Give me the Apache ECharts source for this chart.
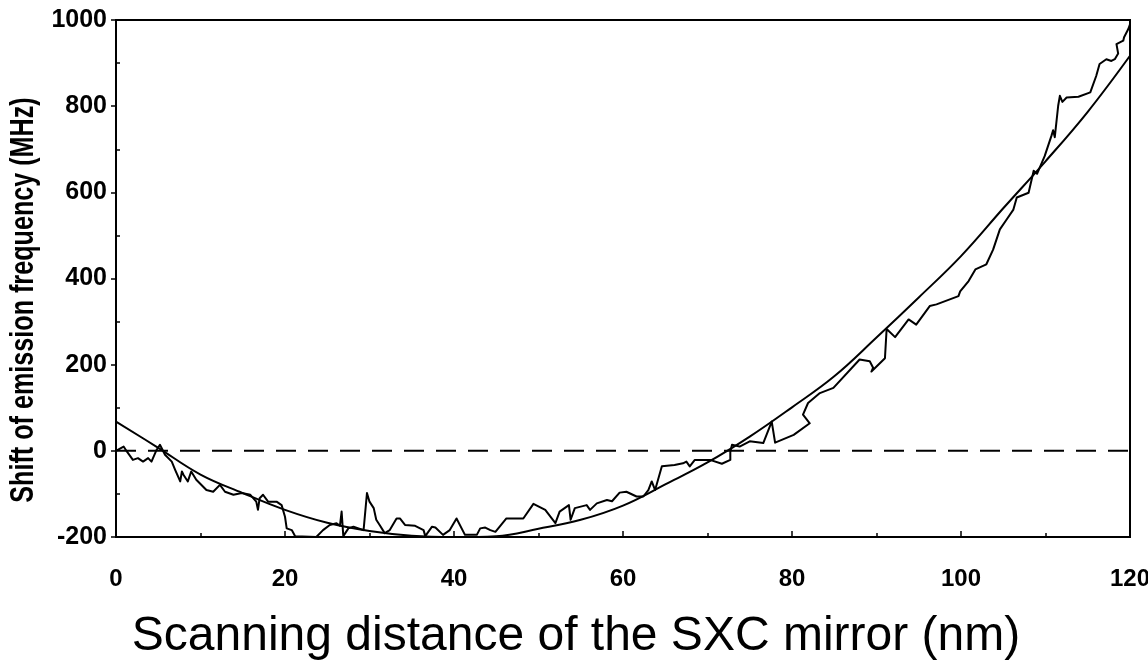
<!DOCTYPE html>
<html>
<head>
<meta charset="utf-8">
<script src="https://cdn.jsdelivr.net/npm/echarts@6/dist/echarts.min.js"></script>
<style>
  html, body { margin: 0; padding: 0; background: #fff; }
  #chart { width: 1148px; height: 667px; }
</style>
</head>
<body>
<div id="chart"></div>
<script>
// Axis ticks
const xTicks = [0, 20, 40, 60, 80, 100, 120];
const yMajorTicks = [-200, 0, 200, 400, 600, 800, 1000];
const yMinorTicks = [-100, 100, 300, 500, 700, 900];

// Measured frequency shift while scanning the mirror: [distance nm, shift MHz]
const measured = [
  [0, 0], [0.9, 10], [1.3, -2], [2.0, -21], [2.6, -17], [3.2, -25], [3.8, -17], [4.2, -25],
  [4.8, 2], [5.2, 14], [5.8, -9], [6.6, -25], [7.0, -44], [7.6, -71], [7.8, -48], [8.0, -56],
  [8.5, -71], [8.9, -48], [9.5, -67], [10.7, -91], [11.5, -95], [12.3, -79], [12.9, -95],
  [13.9, -102], [14.9, -98], [15.9, -102], [16.6, -118], [16.8, -137], [17.0, -110], [17.4, -102],
  [18.0, -118], [19.0, -118], [19.6, -126], [20.0, -153], [20.2, -180], [20.8, -184], [21.2, -198],
  [23.7, -200], [24.5, -184], [25.3, -172], [26.1, -168], [26.5, -174], [26.7, -141], [26.9, -198],
  [27.5, -180], [28.1, -176], [28.7, -180], [29.3, -184], [29.7, -98], [30.0, -118], [30.5, -133],
  [30.8, -160], [31.2, -172], [31.8, -191], [32.4, -184], [33.2, -157], [33.6, -157], [34.2, -172],
  [35.4, -174], [36.4, -184], [36.6, -198], [37.4, -176], [37.8, -178], [38.7, -195], [39.5, -184],
  [40.3, -157], [41.3, -195], [42.7, -195], [43.1, -180], [43.7, -178], [44.3, -184], [44.9, -188],
  [46.2, -157], [47.4, -157], [48.2, -157], [49.4, -123], [50.8, -137], [52.0, -168], [52.5, -141],
  [53.3, -130], [53.6, -126], [53.8, -160], [54.3, -133], [55.7, -126], [56.1, -137], [56.9, -122],
  [58.1, -114], [58.7, -117], [59.6, -97], [60.4, -95], [61.6, -106], [62.4, -106], [63.0, -91],
  [63.4, -71], [63.8, -91], [64.6, -36], [66.1, -33], [67.1, -29], [67.5, -25], [67.9, -36],
  [68.5, -21], [70.3, -21], [71.7, -30], [72.7, -21], [72.7, -2], [72.9, 14], [73.8, 10],
  [75.0, 22], [76.6, 18], [77.6, 68], [78.0, 19], [80.2, 37], [82.1, 64], [81.3, 84], [81.9, 111],
  [83.3, 134], [84.9, 146], [88.0, 212], [89.2, 208], [89.6, 193], [89.4, 184], [91.0, 215],
  [91.2, 283], [92.2, 264], [93.8, 305], [94.7, 293], [96.3, 336], [97.1, 340], [99.7, 359],
  [99.9, 370], [100.9, 394], [101.7, 421], [103.0, 433], [103.8, 467], [104.6, 514], [105.4, 537],
  [106.2, 560], [106.6, 588], [108.0, 599], [108.6, 650], [109.0, 643], [109.9, 684], [110.7, 731],
  [110.9, 744], [111.1, 728], [111.5, 801], [111.7, 824], [112.0, 810], [112.5, 820], [113.9, 822],
  [115.3, 832], [116.0, 870], [116.4, 898], [117.2, 909], [117.8, 905], [118.2, 909], [118.6, 922],
  [118.4, 944], [119.2, 952], [119.3, 960], [119.8, 979], [120, 990]
];

// Fitted curve through the measurement
const fitCurve = [
  [0, 68], [5, 7], [10, -55], [15, -98], [20, -137], [25, -167], [30, -186], [35, -197],
  [40, -200], [45, -198], [50, -181], [55, -160], [60, -127], [65, -78], [70, -27], [75, 33],
  [80, 101], [85, 173], [90, 263], [95, 356], [100, 452], [105, 563], [110, 672], [115, 787],
  [120, 917]
];

// Zero-shift reference
const zeroLine = [[0, 0], [120, 0]];

const xTitle = 'Scanning distance of the SXC mirror (nm)';
const yTitle = 'Shift of emission frequency (MHz)';

const tickFont = "'Liberation Sans', Arial, Helvetica, sans-serif";

const chart = echarts.init(document.getElementById('chart'), null, { renderer: 'canvas' });

chart.setOption({
  animation: false,
  backgroundColor: '#fff',
  grid: {
    left: 116, right: 18, top: 20, bottom: 130,
    containLabel: false, outerBoundsMode: 'none',
    show: true, borderColor: '#000', borderWidth: 2, backgroundColor: 'transparent'
  },
  xAxis: {
    type: 'value', min: 0, max: 120, interval: 20,
    name: xTitle,
    nameLocation: 'middle', nameGap: 76,
    nameTextStyle: { fontFamily: tickFont, fontSize: 48, color: '#000', padding: [0, 94, 0, 0] },
    axisLine: { show: true, onZero: false, lineStyle: { color: '#000', width: 2 } },
    axisTick: { show: true, inside: true, length: 6, lineStyle: { color: '#000', width: 1.5 }, customValues: xTicks },
    minorTick: { show: true, splitNumber: 2, length: 4, lineStyle: { color: '#000', width: 1.5 } },
    axisLabel: { customValues: xTicks, margin: 30, fontFamily: tickFont, fontWeight: 'bold', fontSize: 24, color: '#000',
      formatter: v => String(v) },
    splitLine: { show: false }
  },
  yAxis: [
    {
      type: 'value', min: -200, max: 1000, interval: 200,
      axisLine: { show: true, onZero: false, lineStyle: { color: '#000', width: 2 } },
      axisTick: { show: true, inside: false, length: 5, customValues: yMajorTicks, lineStyle: { color: '#000', width: 1.5 } },
      axisLabel: { customValues: yMajorTicks, margin: 9, fontFamily: tickFont, fontWeight: 'bold', fontSize: 25, color: '#000',
        formatter: v => String(v) },
      splitLine: { show: false }
    },
    {
      type: 'value', min: -200, max: 1000, interval: 200, position: 'left',
      axisLine: { show: false, onZero: false },
      axisTick: { show: true, inside: true, length: 4, customValues: yMinorTicks, lineStyle: { color: '#000', width: 1.5 } },
      axisLabel: { show: false },
      splitLine: { show: false }
    }
  ],
  // Vertical title, set in a condensed bold face
  graphic: [
    {
      type: 'text', x: 24, y: 300, rotation: Math.PI / 2, scaleX: 0.74, scaleY: 1,
      style: {
        text: yTitle, fill: '#000',
        font: "bold 34px 'Liberation Sans', Arial, sans-serif",
        align: 'center', verticalAlign: 'middle'
      }
    }
  ],
  series: [
    {
      name: 'zero', type: 'line', data: zeroLine, symbol: 'none', silent: true,
      lineStyle: { color: '#000', width: 2, type: [20, 12] }, z: 1
    },
    {
      name: 'fit', type: 'line', data: fitCurve, symbol: 'none', smooth: 0.4,
      lineStyle: { color: '#000', width: 2 }, z: 2
    },
    {
      name: 'measured', type: 'line', data: measured, symbol: 'none', clip: true,
      lineStyle: { color: '#000', width: 2, join: 'round' }, z: 3
    }
  ]
});
</script>
</body>
</html>
